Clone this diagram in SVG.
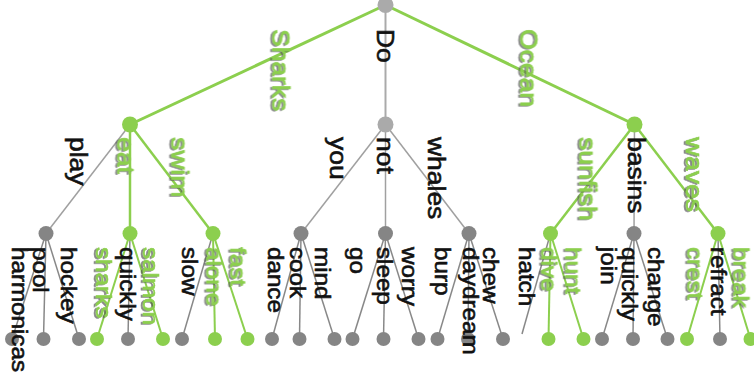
<svg xmlns="http://www.w3.org/2000/svg" width="754" height="383" viewBox="0 0 754 383">
<defs>
<style>
.e{fill:none;stroke-linecap:butt}
.eg{stroke:#8ccf4e}
.ek1{stroke:#aaaaaa;stroke-width:2}
.ek2{stroke:#a0a0a0;stroke-width:1.5}
.ek3{stroke:#888888;stroke-width:1.5}
.w1{stroke-width:3}
.w2{stroke-width:2.5}
.w3{stroke-width:2}
.nl{fill:#aaaaaa}
.nd{fill:#858585}
.ng{fill:#8ccf4e}
text{font-family:"Liberation Sans",Arial,Helvetica,sans-serif;stroke-width:0.6}
.a{font-size:24.5px}
.b{font-size:22px}
.tk{fill:#111111;stroke:#111111}
.tg{fill:#8ccf4e;stroke:#8ccf4e;filter:url(#sh)}
</style>
<filter id="sh" x="-20%" y="-40%" width="140%" height="180%">
<feDropShadow dx="0.8" dy="2" stdDeviation="0.6" flood-color="#555555" flood-opacity="0.7"/>
</filter>
</defs>
<rect width="754" height="383" fill="#ffffff"/>
<g id="connectors">
<line class="e eg w1" x1="385.5" y1="5" x2="130" y2="124.5"/>
<line class="e ek1" x1="385.5" y1="5" x2="385.5" y2="124.5"/>
<line class="e eg w1" x1="385.5" y1="5" x2="634.5" y2="124.5"/>
<line class="e ek2" x1="130" y1="124.5" x2="46" y2="233.5"/>
<line class="e eg w2" x1="130" y1="124.5" x2="130" y2="233.5"/>
<line class="e eg w2" x1="130" y1="124.5" x2="213" y2="233.5"/>
<line class="e ek2" x1="385.5" y1="124.5" x2="301" y2="233.5"/>
<line class="e ek2" x1="385.5" y1="124.5" x2="385.5" y2="233.5"/>
<line class="e ek2" x1="385.5" y1="124.5" x2="469" y2="233.5"/>
<line class="e eg w2" x1="634.5" y1="124.5" x2="550.5" y2="233.5"/>
<line class="e ek2" x1="634.5" y1="124.5" x2="634" y2="233.5"/>
<line class="e eg w2" x1="634.5" y1="124.5" x2="718" y2="233.5"/>
<line class="e ek3" x1="46" y1="233.5" x2="12" y2="339"/>
<line class="e ek3" x1="46" y1="233.5" x2="43.5" y2="339"/>
<line class="e ek3" x1="46" y1="233.5" x2="79" y2="339"/>
<line class="e eg w3" x1="130" y1="233.5" x2="97" y2="339"/>
<line class="e ek3" x1="130" y1="233.5" x2="128" y2="339"/>
<line class="e eg w3" x1="130" y1="233.5" x2="163" y2="339"/>
<line class="e ek3" x1="213" y1="233.5" x2="182" y2="339"/>
<line class="e eg w3" x1="213" y1="233.5" x2="215" y2="339"/>
<line class="e eg w3" x1="213" y1="233.5" x2="247.5" y2="339"/>
<line class="e ek3" x1="301" y1="233.5" x2="272" y2="339"/>
<line class="e ek3" x1="301" y1="233.5" x2="299.5" y2="339"/>
<line class="e ek3" x1="301" y1="233.5" x2="334.5" y2="339"/>
<line class="e ek3" x1="385.5" y1="233.5" x2="352.5" y2="339"/>
<line class="e ek3" x1="385.5" y1="233.5" x2="383.5" y2="339"/>
<line class="e ek3" x1="385.5" y1="233.5" x2="418.5" y2="339"/>
<line class="e ek3" x1="469" y1="233.5" x2="437.5" y2="339"/>
<line class="e ek3" x1="469" y1="233.5" x2="468" y2="339"/>
<line class="e ek3" x1="469" y1="233.5" x2="503" y2="339"/>
<line class="e ek3" x1="550.5" y1="233.5" x2="522" y2="334"/>
<line class="e eg w3" x1="550.5" y1="233.5" x2="548.5" y2="339"/>
<line class="e eg w3" x1="550.5" y1="233.5" x2="583.5" y2="339"/>
<line class="e ek3" x1="634" y1="233.5" x2="602" y2="339"/>
<line class="e ek3" x1="634" y1="233.5" x2="633" y2="339"/>
<line class="e ek3" x1="634" y1="233.5" x2="667.5" y2="339"/>
<line class="e eg w3" x1="718" y1="233.5" x2="687" y2="339"/>
<line class="e ek3" x1="718" y1="233.5" x2="720" y2="339"/>
<line class="e eg w3" x1="718" y1="233.5" x2="750.5" y2="339"/>
</g>
<g id="nodes">
<g id="n-root"><circle class="nl" cx="385.5" cy="5" r="8"/></g>
<g id="n-sharks"><circle class="ng" cx="130" cy="124.5" r="8"/></g>
<g id="n-do"><circle class="nl" cx="385.5" cy="124.5" r="8"/></g>
<g id="n-ocean"><circle class="ng" cx="634.5" cy="124.5" r="8"/></g>
<g id="n-play"><circle class="nd" cx="46" cy="233.5" r="7.5"/></g>
<g id="n-eat"><circle class="ng" cx="130" cy="233.5" r="7.5"/></g>
<g id="n-swim"><circle class="ng" cx="213" cy="233.5" r="7.5"/></g>
<g id="n-you"><circle class="nd" cx="301" cy="233.5" r="7.5"/></g>
<g id="n-not"><circle class="nd" cx="385.5" cy="233.5" r="7.5"/></g>
<g id="n-whales"><circle class="nd" cx="469" cy="233.5" r="7.5"/></g>
<g id="n-sunfish"><circle class="ng" cx="550.5" cy="233.5" r="7.5"/></g>
<g id="n-basins"><circle class="nd" cx="634" cy="233.5" r="7.5"/></g>
<g id="n-waves"><circle class="ng" cx="718" cy="233.5" r="7.5"/></g>
<g id="n-harmonicas"><circle class="nd" cx="12" cy="339" r="7"/></g>
<g id="n-pool"><circle class="nd" cx="43.5" cy="339" r="7"/></g>
<g id="n-hockey"><circle class="nd" cx="79" cy="339" r="7"/></g>
<g id="n-sharks2"><circle class="ng" cx="97" cy="339" r="7"/></g>
<g id="n-quickly"><circle class="nd" cx="128" cy="339" r="7"/></g>
<g id="n-salmon"><circle class="ng" cx="163" cy="339" r="7"/></g>
<g id="n-slow"><circle class="nd" cx="182" cy="339" r="7"/></g>
<g id="n-alone"><circle class="ng" cx="215" cy="339" r="7"/></g>
<g id="n-fast"><circle class="ng" cx="247.5" cy="339" r="7"/></g>
<g id="n-dance"><circle class="nd" cx="272" cy="339" r="7"/></g>
<g id="n-cook"><circle class="nd" cx="299.5" cy="339" r="7"/></g>
<g id="n-mind"><circle class="nd" cx="334.5" cy="339" r="7"/></g>
<g id="n-go"><circle class="nd" cx="352.5" cy="339" r="7"/></g>
<g id="n-sleep"><circle class="nd" cx="383.5" cy="339" r="7"/></g>
<g id="n-worry"><circle class="nd" cx="418.5" cy="339" r="7"/></g>
<g id="n-burp"><circle class="nd" cx="437.5" cy="339" r="7"/></g>
<g id="n-daydream"><circle class="nd" cx="468" cy="339" r="7"/></g>
<g id="n-chew"><circle class="nd" cx="503" cy="339" r="7"/></g>
<g id="n-dive"><circle class="ng" cx="548.5" cy="339" r="7"/></g>
<g id="n-hunt"><circle class="ng" cx="583.5" cy="339" r="7"/></g>
<g id="n-join"><circle class="nd" cx="602" cy="339" r="7"/></g>
<g id="n-quickly2"><circle class="nd" cx="633" cy="339" r="7"/></g>
<g id="n-change"><circle class="nd" cx="667.5" cy="339" r="7"/></g>
<g id="n-crest"><circle class="ng" cx="687" cy="339" r="7"/></g>
<g id="n-refract"><circle class="nd" cx="720" cy="339" r="7"/></g>
<g id="n-break"><circle class="ng" cx="750.5" cy="339" r="7"/></g>
</g>
<g id="labels">
<text class="a tg" transform="translate(272.5,29) rotate(90) scale(1.08,1)">Sharks</text>
<text class="a tk" transform="translate(376.5,29) rotate(90) scale(1.08,1)">Do</text>
<text class="a tg" transform="translate(520.5,29) rotate(90) scale(1.08,1)">Ocean</text>
<text class="a tk" transform="translate(69.5,137) rotate(90) scale(1.08,1)">play</text>
<text class="a tg" transform="translate(117.5,137) rotate(90) scale(1.08,1)">eat</text>
<text class="a tg" transform="translate(171.5,137) rotate(90) scale(1.08,1)">swim</text>
<text class="a tk" transform="translate(329.5,137) rotate(90) scale(1.08,1)">you</text>
<text class="a tk" transform="translate(377,137) rotate(90) scale(1.08,1)">not</text>
<text class="a tk" transform="translate(428,137) rotate(90) scale(1.08,1)">whales</text>
<text class="a tg" transform="translate(579.5,137) rotate(90) scale(1.08,1)">sunfish</text>
<text class="a tk" transform="translate(627.5,137) rotate(90) scale(1.08,1)">basins</text>
<text class="a tg" transform="translate(686,137) rotate(90) scale(1.08,1)">waves</text>
<text class="b tk" transform="translate(12,247) rotate(90) scale(1.1,1)">harmonicas</text>
<text class="b tk" transform="translate(33,247) rotate(90) scale(1.1,1)">pool</text>
<text class="b tk" transform="translate(61,247) rotate(90) scale(1.1,1)">hockey</text>
<text class="b tg" transform="translate(96,247) rotate(90) scale(1.1,1)">sharks</text>
<text class="b tk" transform="translate(119.5,247) rotate(90) scale(1.1,1)">quickly</text>
<text class="b tg" transform="translate(143,247) rotate(90) scale(1.1,1)">salmon</text>
<text class="b tk" transform="translate(182,247) rotate(90) scale(1.1,1)">slow</text>
<text class="b tg" transform="translate(206.5,247) rotate(90) scale(1.1,1)">alone</text>
<text class="b tg" transform="translate(230.5,247) rotate(90) scale(1.1,1)">fast</text>
<text class="b tk" transform="translate(267.5,247) rotate(90) scale(1.1,1)">dance</text>
<text class="b tk" transform="translate(289.5,247) rotate(90) scale(1.1,1)">cook</text>
<text class="b tk" transform="translate(314.5,247) rotate(90) scale(1.1,1)">mind</text>
<text class="b tk" transform="translate(349.5,247) rotate(90) scale(1.1,1)">go</text>
<text class="b tk" transform="translate(376.5,247) rotate(90) scale(1.1,1)">sleep</text>
<text class="b tk" transform="translate(402,247) rotate(90) scale(1.1,1)">worry</text>
<text class="b tk" transform="translate(435,247) rotate(90) scale(1.1,1)">burp</text>
<text class="b tk" transform="translate(462.5,247) rotate(90) scale(1.1,1)">daydream</text>
<text class="b tk" transform="translate(483,247) rotate(90) scale(1.1,1)">chew</text>
<text class="b tk" transform="translate(519,247) rotate(90) scale(1.1,1)">hatch</text>
<text class="b tg" transform="translate(541.5,247) rotate(90) scale(1.1,1)">dive</text>
<text class="b tg" transform="translate(565.5,247) rotate(90) scale(1.1,1)">hunt</text>
<text class="b tk" transform="translate(600.5,247) rotate(90) scale(1.1,1)">join</text>
<text class="b tk" transform="translate(621.5,247) rotate(90) scale(1.1,1)">quickly</text>
<text class="b tk" transform="translate(647.5,247) rotate(90) scale(1.1,1)">change</text>
<text class="b tg" transform="translate(687.5,247) rotate(90) scale(1.1,1)">crest</text>
<text class="b tk" transform="translate(710.5,247) rotate(90) scale(1.1,1)">refract</text>
<text class="b tg" transform="translate(733.5,247) rotate(90) scale(1.1,1)">break</text>
</g>
</svg>
